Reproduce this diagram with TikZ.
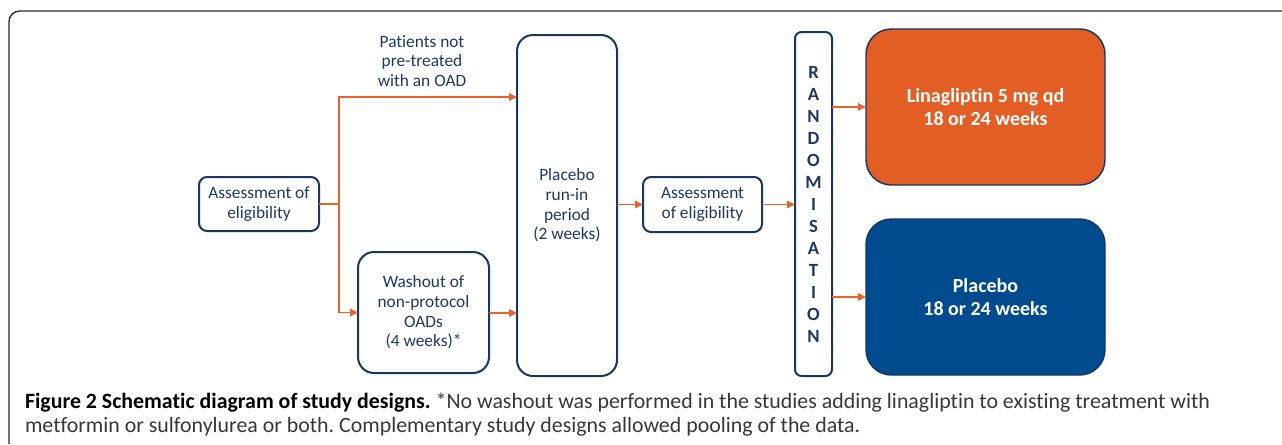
\documentclass[tikz,border=0pt]{standalone}
\usepackage{fontspec}
\setmainfont{Carlito}[RawFeature={-liga}]
\usetikzlibrary{arrows.meta,calc}
\definecolor{navy}{RGB}{30,56,98}
\definecolor{boxline}{RGB}{24,54,96}
\definecolor{arrorange}{RGB}{232,98,42}
\definecolor{fillorange}{RGB}{227,94,36}
\definecolor{fillblue}{RGB}{0,75,141}
\definecolor{capgray}{RGB}{55,55,55}
\definecolor{framegray}{RGB}{40,40,40}
\tikzset{
  every node/.style={inner sep=0pt, outer sep=0pt},
  box/.style={draw=boxline, line width=1.5pt, fill=white, align=center, text=navy,
    font=\fontsize{13}{14.8}\selectfont},
  colbox/.style={draw=boxline, line width=1.1pt, rounded corners=19pt, align=center, text=white,
    font=\fontsize{15}{17.3}\selectfont\bfseries},
  conn/.style={draw=arrorange, line width=1.3pt},
  arr/.style={conn, -{Triangle[length=6pt,width=5.5pt]}},
}
\begin{document}
\frenchspacing
\begin{tikzpicture}[x=0.75pt,y=-0.75pt]
\useasboundingbox (0,0) rectangle (1282,444);
% outer frame
\draw[framegray, line width=1pt, rounded corners=8pt] (9,444) -- (9,11) -- (1282,11);

% nodes
\node[box, rounded corners=6pt, minimum width=120*0.75pt, minimum height=54*0.75pt] (a1) at (259,204) {Assessment of\\eligibility};
\node[box, rounded corners=12pt, minimum width=131*0.75pt, minimum height=121*0.75pt] (wash) at (423.5,312.5) {Washout of\\non-protocol\\OADs\\(4 weeks)*};
\node[box, rounded corners=12pt, minimum width=100*0.75pt, minimum height=341*0.75pt] (plac) at (567,205.5) {Placebo\\run-in\\period\\(2 weeks)};
\node[box, rounded corners=6pt, minimum width=119*0.75pt, minimum height=55*0.75pt] (a2) at (702.5,204.5) {Assessment\\of eligibility};
\node[box, rounded corners=5pt, minimum width=37*0.75pt, minimum height=344*0.75pt,
  font=\fontsize{14}{16.5}\selectfont\bfseries] (rand) at (813.5,204) {R\\A\\N\\D\\O\\M\\I\\S\\A\\T\\I\\O\\N};
\node[colbox, fill=fillorange, minimum width=239*0.75pt, minimum height=156*0.75pt] (lina) at (985.5,107) {Linagliptin 5 mg qd\\18 or 24 weeks};
\node[colbox, fill=fillblue, minimum width=239*0.75pt, minimum height=156*0.75pt] (pbo) at (985.5,297) {Placebo\\18 or 24 weeks};
\node[align=center, text=navy, font=\fontsize{13}{14.8}\selectfont] (pnt) at (422,61) {Patients not\\pre-treated\\with an OAD};

% connectors
\coordinate (br) at (339,204);
\draw[conn] (a1.east) -- (br);
\draw[arr] (br) |- (plac.west |- 0,97);
\draw[arr] (br) |- (wash.west);
\draw[arr] (wash.east |- 0,313) -- (plac.west |- 0,313);
\draw[arr] (plac.east |- a2.west) -- (a2.west);
\draw[arr] (a2.east) -- (rand.west |- a2.east);
\draw[arr] (rand.east |- lina.west) -- (lina.west);
\draw[arr] (rand.east |- pbo.west) -- (pbo.west);

% caption
\node[anchor=base west, font=\fontsize{16.4}{18}\selectfont, text=capgray] (cap1) at (25,408)
  {\textbf{\color{black}Figure 2 Schematic diagram of study designs.} *No washout was performed in the studies adding linagliptin to existing treatment with};
\node[anchor=base west, font=\fontsize{16.4}{18}\selectfont, text=capgray] (cap2) at (25,432)
  {metformin or sulfonylurea or both. Complementary study designs allowed pooling of the data.};
\end{tikzpicture}
\end{document}
